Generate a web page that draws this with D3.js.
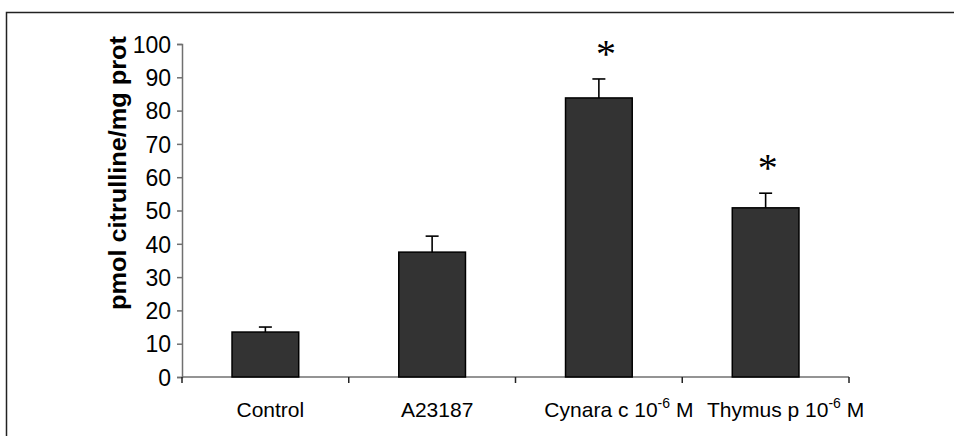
<!DOCTYPE html>
<html>
<head>
<meta charset="utf-8">
<script src="https://cdn.jsdelivr.net/npm/d3@7"></script>
<style>
  html, body { margin: 0; padding: 0; background: #fff; }
  svg { display: block; }
</style>
</head>
<body>
<svg id="chart" width="954" height="436"></svg>
<script>
// ---- data ----
const categories = ["Control", "A23187", "Cynara c 10", "Thymus p 10"];
const superscripts = ["", "", "-6", "-6"];
const suffixes = ["", "", " M", " M"];
const values = [13.5, 37.5, 83.8, 50.8];
const errors = [1.5, 4.8, 5.7, 4.4];
const significant = [false, false, true, true];
const yTicks = [0, 10, 20, 30, 40, 50, 60, 70, 80, 90, 100];
const yTitle = "pmol citrulline/mg prot";

// ---- layout ----
const svg = d3.select("#chart");
const W = 954, H = 436;
const plot = { left: 182, right: 849, top: 44, bottom: 377 };
const FONT = "'Liberation Sans', Arial, Helvetica, sans-serif";

svg.append("rect").attr("width", W).attr("height", H).attr("fill", "#fff");

// outer frame (clipped at right / bottom)
svg.append("rect")
  .attr("x", 6.5).attr("y", 12.5)
  .attr("width", 1000).attr("height", 600)
  .attr("fill", "none").attr("stroke", "#222").attr("stroke-width", 1.5);

const x = d3.scaleBand().domain(categories).range([plot.left, plot.right]).padding(0);
const y = d3.scaleLinear().domain([0, 100]).range([plot.bottom, plot.top]);

const axisColor = "#707070";

// Y axis
const yAxis = svg.append("g")
  .attr("transform", `translate(${plot.left},0)`)
  .call(d3.axisLeft(y).tickValues(yTicks).tickSize(5).tickPadding(6).tickFormat(d3.format("d")));
yAxis.select(".domain").attr("stroke", axisColor).attr("stroke-width", 1.5);
yAxis.selectAll(".tick line").attr("stroke", axisColor).attr("stroke-width", 1.5);
yAxis.selectAll(".tick text")
  .attr("font-family", FONT).attr("font-size", 23).attr("fill", "#000")
  .attr("dy", "0.36em");

// X axis: baseline + boundary ticks
svg.append("line")
  .attr("x1", plot.left).attr("x2", plot.right)
  .attr("y1", y(0)).attr("y2", y(0))
  .attr("stroke", axisColor).attr("stroke-width", 1.5);

const boundaries = categories.map(c => x(c)).concat([x(categories[categories.length - 1]) + x.step()]);
svg.selectAll(".xtick").data(boundaries).enter().append("line")
  .attr("x1", d => d).attr("x2", d => d)
  .attr("y1", y(0)).attr("y2", y(0) + 6)
  .attr("stroke", "#222").attr("stroke-width", 1.5);

// bars
const barW = x.bandwidth() * 0.4;
const bars = svg.append("g");
bars.selectAll("rect").data(values).enter().append("rect")
  .attr("x", (d, i) => x(categories[i]) + (x.bandwidth() - barW) / 2)
  .attr("y", d => y(d))
  .attr("width", barW)
  .attr("height", d => y(0) - y(d))
  .attr("fill", "#333333")
  .attr("stroke", "#000").attr("stroke-width", 1.5);

// error bars (upper only)
const capW = 13;
const eb = svg.append("g").attr("stroke", "#000").attr("stroke-width", 1.6);
values.forEach((v, i) => {
  const cx = x(categories[i]) + x.bandwidth() / 2;
  eb.append("line").attr("x1", cx).attr("x2", cx).attr("y1", y(v)).attr("y2", y(v + errors[i]));
  eb.append("line").attr("x1", cx - capW / 2).attr("x2", cx + capW / 2)
    .attr("y1", y(v + errors[i])).attr("y2", y(v + errors[i]));
});

// significance asterisks
values.forEach((v, i) => {
  if (!significant[i]) return;
  const cx = x(categories[i]) + x.bandwidth() / 2;
  svg.append("text")
    .attr("x", cx + (i === 2 ? 7 : 2))
    .attr("y", y(v + errors[i]) - 12)
    .attr("text-anchor", "middle")
    .attr("font-family", "'Liberation Serif', 'Times New Roman', serif")
    .attr("font-size", 40)
    .attr("fill", "#000")
    .text("*");
});

// x labels
categories.forEach((c, i) => {
  const cx = x(c) + x.bandwidth() / 2;
  const t = svg.append("text")
    .attr("x", cx + (superscripts[i] ? 20 : 5))
    .attr("y", y(0) + 40)
    .attr("text-anchor", "middle")
    .attr("font-family", FONT).attr("font-size", 21).attr("fill", "#000");
  t.append("tspan").text(c);
  if (superscripts[i]) {
    t.append("tspan").attr("font-size", 14).attr("dy", -9).text(superscripts[i]);
    t.append("tspan").attr("dy", 9).text(suffixes[i]);
  }
});

// y title
svg.append("text")
  .attr("transform", `translate(126, 173) scale(1, 1.1) rotate(-90)`)
  .attr("text-anchor", "middle")
  .attr("font-family", FONT).attr("font-size", 23).attr("font-weight", "bold")
  .attr("fill", "#000")
  .text(yTitle);
</script>
</body>
</html>
